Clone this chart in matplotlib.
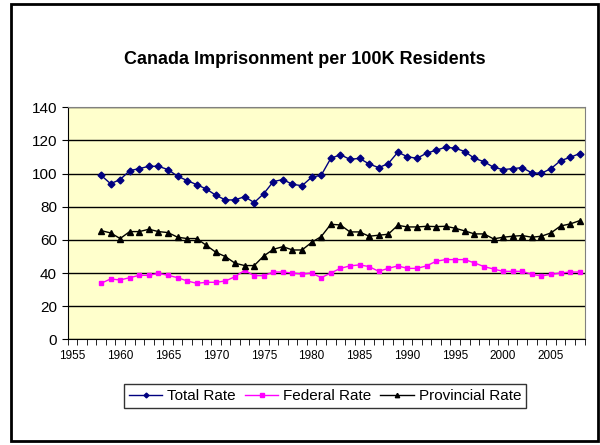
import numpy as np
import matplotlib.pyplot as plt
from matplotlib.patches import Rectangle

plt.rcParams['font.family'] = ['Liberation Sans', 'DejaVu Sans']

years = list(range(1958, 2009))
total_rate = [99.0, 93.9, 96.4, 101.8, 103.0, 104.4, 104.4, 102.4, 98.4, 95.8,
              93.3, 90.7, 86.9, 84.1, 84.1, 86.1, 82.5, 87.9, 95.2, 96.4,
              93.5, 92.7, 97.8, 99.0, 109.2, 111.4, 108.6, 109.2, 105.8, 103.6,
              106.0, 112.9, 110.2, 109.2, 112.3, 114.1, 115.9, 115.3, 113.3, 109.2,
              107.2, 103.8, 102.4, 103.0, 103.6, 100.4, 100.2, 103.0, 107.8, 109.8,
              112.1]
federal_rate = [33.8, 36.4, 35.8, 37.2, 38.6, 38.6, 39.8, 38.6, 37.2, 35.2,
                33.8, 34.4, 34.4, 35.2, 37.8, 41.6, 38.4, 38.4, 40.6, 40.6,
                40.0, 39.4, 40.0, 37.2, 40.0, 42.8, 44.3, 44.9, 43.9, 41.0,
                42.8, 44.3, 42.8, 42.8, 44.3, 47.1, 48.1, 48.1, 48.1, 46.1,
                43.9, 42.4, 41.0, 41.0, 41.0, 39.2, 38.2, 39.2, 40.0, 40.6,
                40.6]
provincial_rate = [65.6, 64.2, 60.8, 65.0, 65.0, 66.4, 65.0, 64.4, 61.6, 60.8,
                   60.8, 56.7, 52.5, 49.9, 45.9, 44.5, 44.5, 50.3, 54.3, 55.9,
                   53.9, 53.9, 58.5, 62.0, 69.4, 69.0, 64.8, 64.8, 62.2, 62.8,
                   63.4, 68.8, 67.8, 67.8, 68.2, 68.0, 68.2, 67.0, 65.4, 63.6,
                   63.6, 60.6, 61.6, 62.2, 62.6, 61.6, 62.2, 64.2, 68.4, 69.6,
                   71.6]
year_labels = list(range(1955, 2006, 5))
y_ticks = list(range(0, 141, 20))

fig = plt.figure(figsize=(6, 4.45), dpi=100)
fig.patches.append(Rectangle((11/600, 4/445), 587/600, 437/445, transform=fig.transFigure,
                             fill=False, edgecolor='black', linewidth=2))

ax = fig.add_axes([67.5/600, 105.7/445, 517/600, 232/445])
ax.set_facecolor('#FFFFCC')

ax.plot(years, total_rate, color='#000080', marker='D', markersize=3.5, linewidth=1, label='Total Rate')
ax.plot(years, federal_rate, color='#FF00FF', marker='s', markersize=3.5, linewidth=1, label='Federal Rate')
ax.plot(years, provincial_rate, color='black', marker='^', markersize=4.5, linewidth=1, label='Provincial Rate')

ax.set_xlim(1954.5, 2008.5)
ax.set_ylim(0, 140)
ax.set_yticks(y_ticks)
ax.set_xticks(year_labels)
ax.set_xticks(np.arange(1954.5, 2009, 1), minor=True)
ax.tick_params(axis='x', which='major', length=0, labelsize=8.5, pad=8)
ax.tick_params(axis='x', which='minor', length=4, direction='out')
ax.tick_params(axis='y', length=4, direction='out', labelsize=11)
ax.grid(axis='y', color='black', linewidth=1)
ax.set_axisbelow(True)
for s in ['top', 'right']:
    ax.spines[s].set_color('#808080')
for s in ['left', 'bottom']:
    ax.spines[s].set_color('black')

fig.text(305/600, 1 - 60/445, 'Canada Imprisonment per 100K Residents', ha='center', va='center',
         fontsize=13, fontweight='bold')

leg = fig.legend(loc='center', bbox_to_anchor=(325/600, 1 - 396/445), ncol=3, fontsize=11,
                 frameon=True, fancybox=False, edgecolor='black', handlelength=2.2,
                 handletextpad=0.3, columnspacing=0.6, borderpad=0.3, markerscale=0.7)
leg.get_frame().set_linewidth(1)

fig.savefig('out.png', dpi=100)
